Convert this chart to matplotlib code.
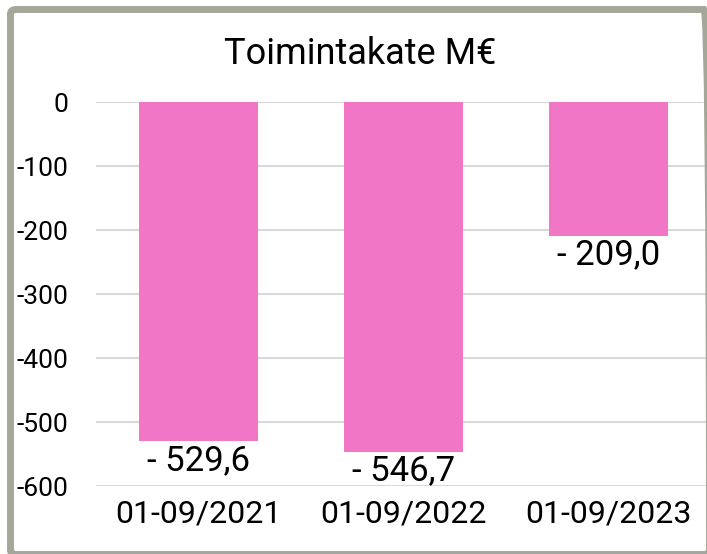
import matplotlib
matplotlib.use("Agg")
import matplotlib.pyplot as plt
from matplotlib.patches import FancyBboxPatch

# Datos
periodos = ["01-09/2021", "01-09/2022", "01-09/2023"]
toimintakate = [-529.6, -546.7, -209.0]
etiquetas = ["- 529,6", "- 546,7", "- 209,0"]
ticks_y = [0, -100, -200, -300, -400, -500, -600]

plt.rcParams["font.family"] = ["Roboto", "DejaVu Sans"]

W, H = 707, 554
fig = plt.figure(figsize=(W / 100, H / 100), dpi=100)
fig.patch.set_facecolor("white")

# Marco gris (recortado a la derecha y abajo)
marco = FancyBboxPatch((10.5 / W, -0.5 / H), (709.5 - 10.5) / W, (544.5 + 0.5) / H,
                       boxstyle="round,pad=0,rounding_size=0.008",
                       transform=fig.transFigure, fill=False,
                       edgecolor="#A6A79B", linewidth=5.0, zorder=0)
fig.patches.append(marco)

ax = fig.add_axes([96 / W, 68 / H, (711 - 96) / W, (486 - 102) / H])
ax.set_facecolor("none")
x = range(len(periodos))
ax.bar(x, toimintakate, width=0.58, color="#F177C6", zorder=2)
ax.set_xlim(-0.5, 2.5)
ax.set_ylim(-600, 0)
ax.set_yticks(ticks_y)
ax.set_yticklabels([str(t) for t in ticks_y], fontsize=19, color="black")
ax.set_xticks(list(x))
ax.set_xticklabels(periodos, fontsize=23, color="black")
ax.tick_params(axis="both", length=0)
ax.tick_params(axis="y", pad=20)
ax.tick_params(axis="x", pad=10)
ax.grid(axis="y", color="#D9D9D9", linewidth=1.5, zorder=0)
for s in ax.spines.values():
    s.set_visible(False)

for xi, v, et in zip(x, toimintakate, etiquetas):
    ax.annotate(et, (xi, v), xytext=(0, -2), textcoords="offset points",
                ha="center", va="top", fontsize=25, color="black")

fig.text(360 / W, 1 - 54 / H, "Toimintakate M€", ha="center", va="center",
         fontsize=26, color="black")

fig.savefig("out.png", dpi=100)
